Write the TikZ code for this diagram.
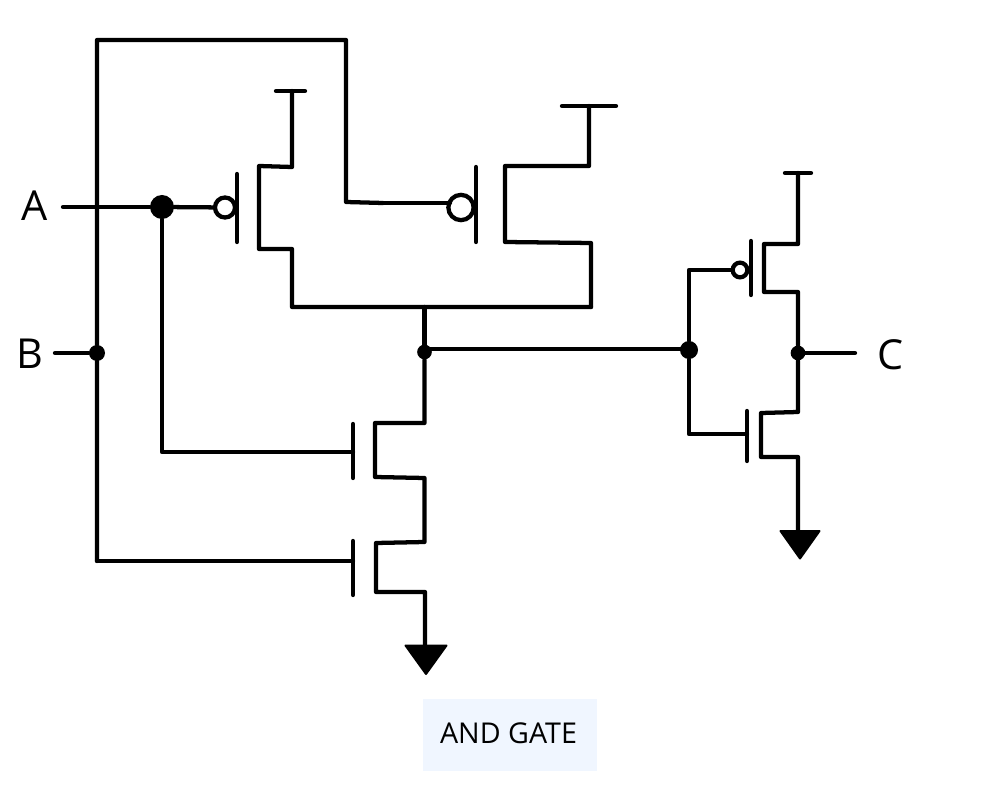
\documentclass[tikz,border=0pt]{standalone}
\usepackage{fontspec}
\setmainfont{Open Sans}
\definecolor{capfill}{HTML}{F0F6FF}
\tikzset{x=0.75pt,y=-0.75pt,
  wire/.style={line width=3.2pt,line cap=round,line join=round,black},
  bubble/.style={circle,draw=black,fill=white,line width=3.2pt,inner sep=0pt},
  dotnode/.style={circle,fill=black,inner sep=0pt},
  gnd/.style={fill=black,draw=black,line width=1.5pt,line join=round},
  lab/.style={font=\fontsize{31}{36}\selectfont,inner sep=0pt}}
\begin{document}
\begin{tikzpicture}
\useasboundingbox (0,0) rectangle (992,787);
\fill[white] (0,0) rectangle (992,787);
% labels
\node[lab] (la) at (35,206) {A};
\node[lab] (lb) at (29.5,354) {B};
\node[lab] (lc) at (891,355) {C};
\node[fill=capfill,minimum width=130.5pt,minimum height=54pt,inner sep=0pt] (cap) at (509.5,735) {};
\node[inner sep=0pt,font=\fontsize{21.5}{26}\selectfont] (captext) at (508.5,733) {AND GATE};
\begin{scope}[shift={(0,1)}]
% junctions
\node[dotnode,minimum size=18pt] (ja) at (162,206) {};
\node[dotnode,minimum size=12pt] (jb) at (97,352) {};
\node[dotnode,minimum size=11pt] (jo) at (424.5,351) {};
\node[dotnode,minimum size=13.5pt] (ji) at (689,349) {};
\node[dotnode,minimum size=11pt] (jc) at (798,352) {};
\coordinate (tap) at (424.5,348);
\coordinate (tapi) at (689,348);
% input A
\coordinate (ain) at (63,206);
\draw[wire] (ain) -- (ja);
\node[bubble,minimum size=15pt] (b1) at (225,206.5) {};
\draw[wire] (ja) -- (b1);
\draw[wire] (237,173) -- (237,241);
\draw[wire] (276,90) -- (305,90);
\draw[wire] (292,90) -- (292,166) -- (259,165) -- (259,248) -- (292,248) -- (292,306) -- (591,306);
% input B loop
\coordinate (bin) at (55,352);
\draw[wire] (bin) -- (jb);
\draw[wire] (97,560) -- (jb) -- (97,39) -- (346,39) -- (346,201) -- (383,202);
\node[bubble,minimum size=19pt] (b2) at (461,206.5) {};
\draw[wire] (383,202) -- (450,202);
\draw[wire] (476,166) -- (476,241);
\draw[wire] (562,105) -- (616,105);
\draw[wire] (589,105) -- (589,165) -- (505,165) -- (505,241) -- (591,242) -- (591,306);
% output
\draw[wire] (424.5,306) -- (jo);
\draw[wire] (tap) -- (tapi);
\draw[wire] (jo) -- (424.5,422) -- (375,422) -- (375,476) -- (424.5,477) -- (424.5,541) -- (376,542) -- (376,591) -- (425,591) -- (425,646);
\draw[wire] (ja) -- (162,451) -- (353,451);
\draw[wire] (353,423) -- (353,477);
\draw[wire] (97,560) -- (353,560);
\draw[wire] (353,540) -- (353,594);
\draw[gnd] (405.5,644.5) -- (446.5,644.5) -- (426,673) -- cycle;
% inverter
\node[bubble,minimum size=11pt] (b3) at (740,269) {};
\draw[wire] (ji) -- (689,269) -- (b3);
\draw[wire] (ji) -- (689,433) -- (747,433);
\draw[wire] (751,240) -- (751,294);
\draw[wire] (747,410) -- (747,460);
\draw[wire] (785,172) -- (811,172);
\draw[wire] (798,172) -- (798,243) -- (764,243) -- (764,291) -- (798,291) -- (jc) -- (798,411) -- (761,412) -- (761,456) -- (798,456) -- (798,532);
\draw[wire] (jc) -- (855,352);
\draw[gnd] (780.5,530) -- (819.5,530) -- (800,557.5) -- cycle;
\end{scope}
\end{tikzpicture}
\end{document}
